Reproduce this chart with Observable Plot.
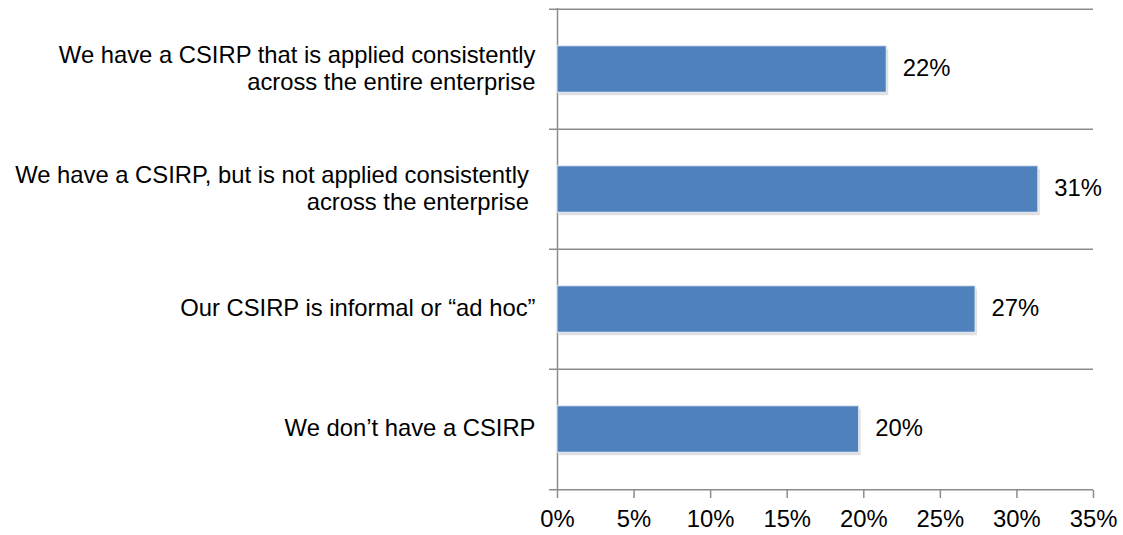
<!DOCTYPE html>
<html>
<head>
<meta charset="utf-8">
<script src="https://cdn.jsdelivr.net/npm/d3@7"></script>
<script src="https://cdn.jsdelivr.net/npm/@observablehq/plot@0.6"></script>
<style>
  html, body { margin: 0; padding: 0; background: #fff; }
  #chart svg { display: block; }
</style>
</head>
<body>
<div id="chart"></div>
<script>
const categories = [
  "We have a CSIRP that is applied consistently\nacross the entire enterprise",
  "We have a CSIRP, but is not applied consistently \nacross the enterprise ",
  "Our CSIRP is informal or \u201cad hoc\u201d",
  "We don\u2019t have a CSIRP"
];
const values = [0.215, 0.314, 0.273, 0.197];
const valueLabels = ["22%", "31%", "27%", "20%"];
const xTicks = [0, 0.05, 0.10, 0.15, 0.20, 0.25, 0.30, 0.35];

const data = categories.map((c, i) => ({cat: c, value: values[i], label: valueLabels[i]}));

const W = 1123, H = 535;
const mTop = 8, mBottom = 45, mLeft = 557, mRight = 30;
const step = (H - mTop - mBottom) / categories.length;
const barH = 47;
const inset = (step - barH) / 2;
const font = "Liberation Sans, Arial, Helvetica, sans-serif";
const fs = 23.8;

const chart = Plot.plot({
  width: W,
  height: H,
  marginTop: mTop,
  marginBottom: mBottom,
  marginLeft: mLeft,
  marginRight: mRight,
  style: {fontFamily: font, fontSize: fs + "px", color: "#000", background: "#fff"},
  x: {domain: [0, 0.35], label: null},
  y: {domain: categories, padding: 0, label: null, axis: null},
  marks: [
    // category separators (gridlines at band boundaries)
    Plot.ruleY(categories, {y: d => d, dy: -step / 2, stroke: "#8c8c8c", strokeWidth: 1.5, insetLeft: -8}),
    Plot.ruleY([categories[categories.length - 1]], {y: d => d, dy: step / 2, stroke: "#8c8c8c", strokeWidth: 1.5, insetLeft: -8}),
    // vertical axis line
    Plot.ruleX([0], {stroke: "#8c8c8c", strokeWidth: 1.5}),
    // bars shadow
    Plot.barX(data, {x: "value", y: "cat", insetTop: inset + 3, insetBottom: inset - 3, dx: 2, fill: "#000", fillOpacity: 0.12}),
    Plot.barX(data, {x: "value", y: "cat", insetTop: inset, insetBottom: inset, fill: "#4f81bd", stroke: "#e8eef6", strokeWidth: 1}),
    // value labels
    Plot.text(data, {x: "value", y: "cat", text: "label", dx: 16, dy: -1, textAnchor: "start", fontSize: fs, fill: "#000"}),
    // category labels
    Plot.text(data, {x: 0, y: "cat", text: "cat", dx: -22, dy: -2, textAnchor: "end", fontSize: fs, lineHeight: 1.13, fill: "#000"}),
    // x axis
    Plot.axisX(xTicks, {tickFormat: d3.format(".0%"), tickSize: 8, tickPadding: 12, stroke: "#8c8c8c", strokeWidth: 1.5, fontSize: fs, fill: "#000"})
  ]
});

document.getElementById("chart").appendChild(chart);
</script>
</body>
</html>
